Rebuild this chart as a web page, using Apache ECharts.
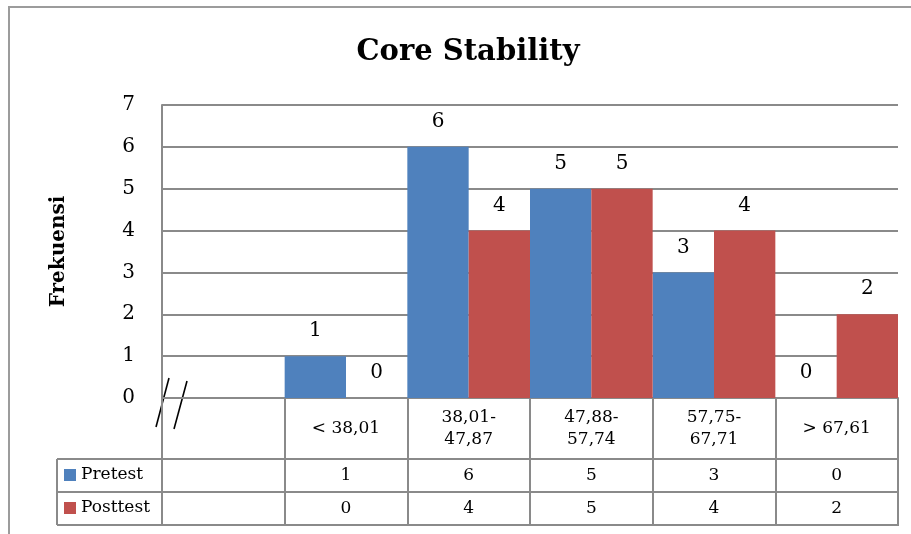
<!DOCTYPE html>
<html>
<head>
<meta charset="utf-8">
<title>Core Stability</title>
<script src="https://cdn.jsdelivr.net/npm/echarts@6/dist/echarts.min.js"></script>
<style>
  html, body { margin: 0; padding: 0; background: #fff; }
  #chart { width: 911px; height: 534px; }
</style>
</head>
<body>
<div id="chart"></div>
<script>
// Score classes (the first, empty slot holds the axis break)
const categories = ['< 38,01', '38,01-\n47,87', '47,88-\n57,74', '57,75-\n67,71', '> 67,61'];
const seriesNames = ['Pretest', 'Posttest'];
const pretest = [1, 6, 5, 3, 0];
const posttest = [0, 4, 5, 4, 2];
const yMin = 0, yMax = 7, yStep = 1;
const titleText = 'Core Stability';
const yName = 'Frekuensi';

// Layout
const FONT = '"DejaVu Serif", "Liberation Serif", serif';
const GRID = { left: 162, right: 13, top: 105, bottom: 136 };
const W = 911, H = 534;
const plotRight = W - GRID.right;      // 898
const baseY = H - GRID.bottom;         // 398
const rowY = [459, 492, 525];          // data-table row lines
const tableLeft = 57;
const LINE = '#8a8a8a';
const TABLE_FONT = 17;

const axisCats = [''].concat(categories);
const preData = ['-'].concat(pretest);
const postData = ['-'].concat(posttest);

const chart = echarts.init(document.getElementById('chart'), null, { renderer: 'canvas' });

// a data-table row drawn as an extra category axis whose labels are the values
const valueRow = (vals, margin) => ({
  type: 'category',
  gridIndex: 0,
  position: 'bottom',
  data: [''].concat(vals.map(String)),
  axisLine: { show: false },
  axisTick: { show: false },
  splitLine: { show: false },
  axisLabel: {
    interval: 0, margin: margin, verticalAlign: 'middle',
    fontFamily: FONT, fontSize: TABLE_FONT, color: '#000'
  }
});

const tableLines = [];
rowY.forEach(y => {
  tableLines.push({ type: 'line', shape: { x1: tableLeft, y1: y, x2: plotRight + 1, y2: y },
    style: { stroke: LINE, lineWidth: 2 } });
});
tableLines.push({ type: 'line', shape: { x1: tableLeft, y1: rowY[0], x2: tableLeft, y2: rowY[2] },
  style: { stroke: LINE, lineWidth: 2 } });

const option = {
  animation: false,
  backgroundColor: '#fff',
  color: ['#4F81BD', '#C0504D'],
  grid: GRID,
  legend: {
    data: seriesNames,
    orient: 'vertical',
    left: 64, top: 465,
    padding: 0,
    itemWidth: 12, itemHeight: 12, itemGap: 13,
    icon: 'rect',
    selectedMode: false,
    textStyle: { fontFamily: FONT, fontSize: TABLE_FONT, color: '#000', lineHeight: 20 }
  },
  xAxis: [
    {
      type: 'category',
      data: axisCats,
      axisLine: { show: true, lineStyle: { color: LINE, width: 2 } },
      axisTick: { show: true, length: rowY[2] - baseY, interval: 0, lineStyle: { color: LINE, width: 2 } },
      axisLabel: {
        interval: 0, margin: (rowY[0] - baseY) / 2, verticalAlign: 'middle',
        fontFamily: FONT, fontSize: TABLE_FONT, lineHeight: 22, color: '#000', align: 'center'
      },
      splitLine: { show: false }
    },
    valueRow(pretest, (rowY[0] + rowY[1]) / 2 - baseY),
    valueRow(posttest, (rowY[1] + rowY[2]) / 2 - baseY)
  ],
  yAxis: {
    type: 'value',
    min: yMin, max: yMax, interval: yStep,
    name: yName,
    nameLocation: 'middle',
    nameRotate: 90,
    nameGap: 93,
    nameTextStyle: { fontFamily: FONT, fontSize: 20, fontWeight: 'bold', color: '#000' },
    axisLine: { show: true, lineStyle: { color: LINE, width: 2 } },
    axisTick: { show: false },
    axisLabel: { margin: 27, fontFamily: FONT, fontSize: 20, color: '#000' },
    splitLine: { show: true, lineStyle: { color: LINE, width: 2 } }
  },
  series: [
    {
      name: seriesNames[0], type: 'bar', data: preData,
      barGap: '0%', barCategoryGap: '0%',
      label: { show: true, position: 'top', distance: 15, fontFamily: FONT, fontSize: 20, color: '#000' }
    },
    {
      name: seriesNames[1], type: 'bar', data: postData,
      barGap: '0%', barCategoryGap: '0%',
      label: { show: true, position: 'top', distance: 15, fontFamily: FONT, fontSize: 20, color: '#000' }
    }
  ],
  graphic: [
    // outer chart frame (left and top edges)
    { type: 'polyline', shape: { points: [[9, H], [9, 7], [W, 7]] },
      style: { stroke: '#9c9c9c', lineWidth: 2, fill: null } },
    // title
    { type: 'text', x: 468, y: 52,
      style: { text: titleText, align: 'center', verticalAlign: 'middle',
        fontFamily: FONT, fontSize: 29, fontWeight: 'bold', fill: '#000' } },
    // axis break marks
    { type: 'line', shape: { x1: 156, y1: 427, x2: 169, y2: 378 }, style: { stroke: '#000', lineWidth: 1.6 } },
    { type: 'line', shape: { x1: 174, y1: 429, x2: 187, y2: 381 }, style: { stroke: '#000', lineWidth: 1.6 } }
  ].concat(tableLines)
};

chart.setOption(option);
</script>
</body>
</html>
